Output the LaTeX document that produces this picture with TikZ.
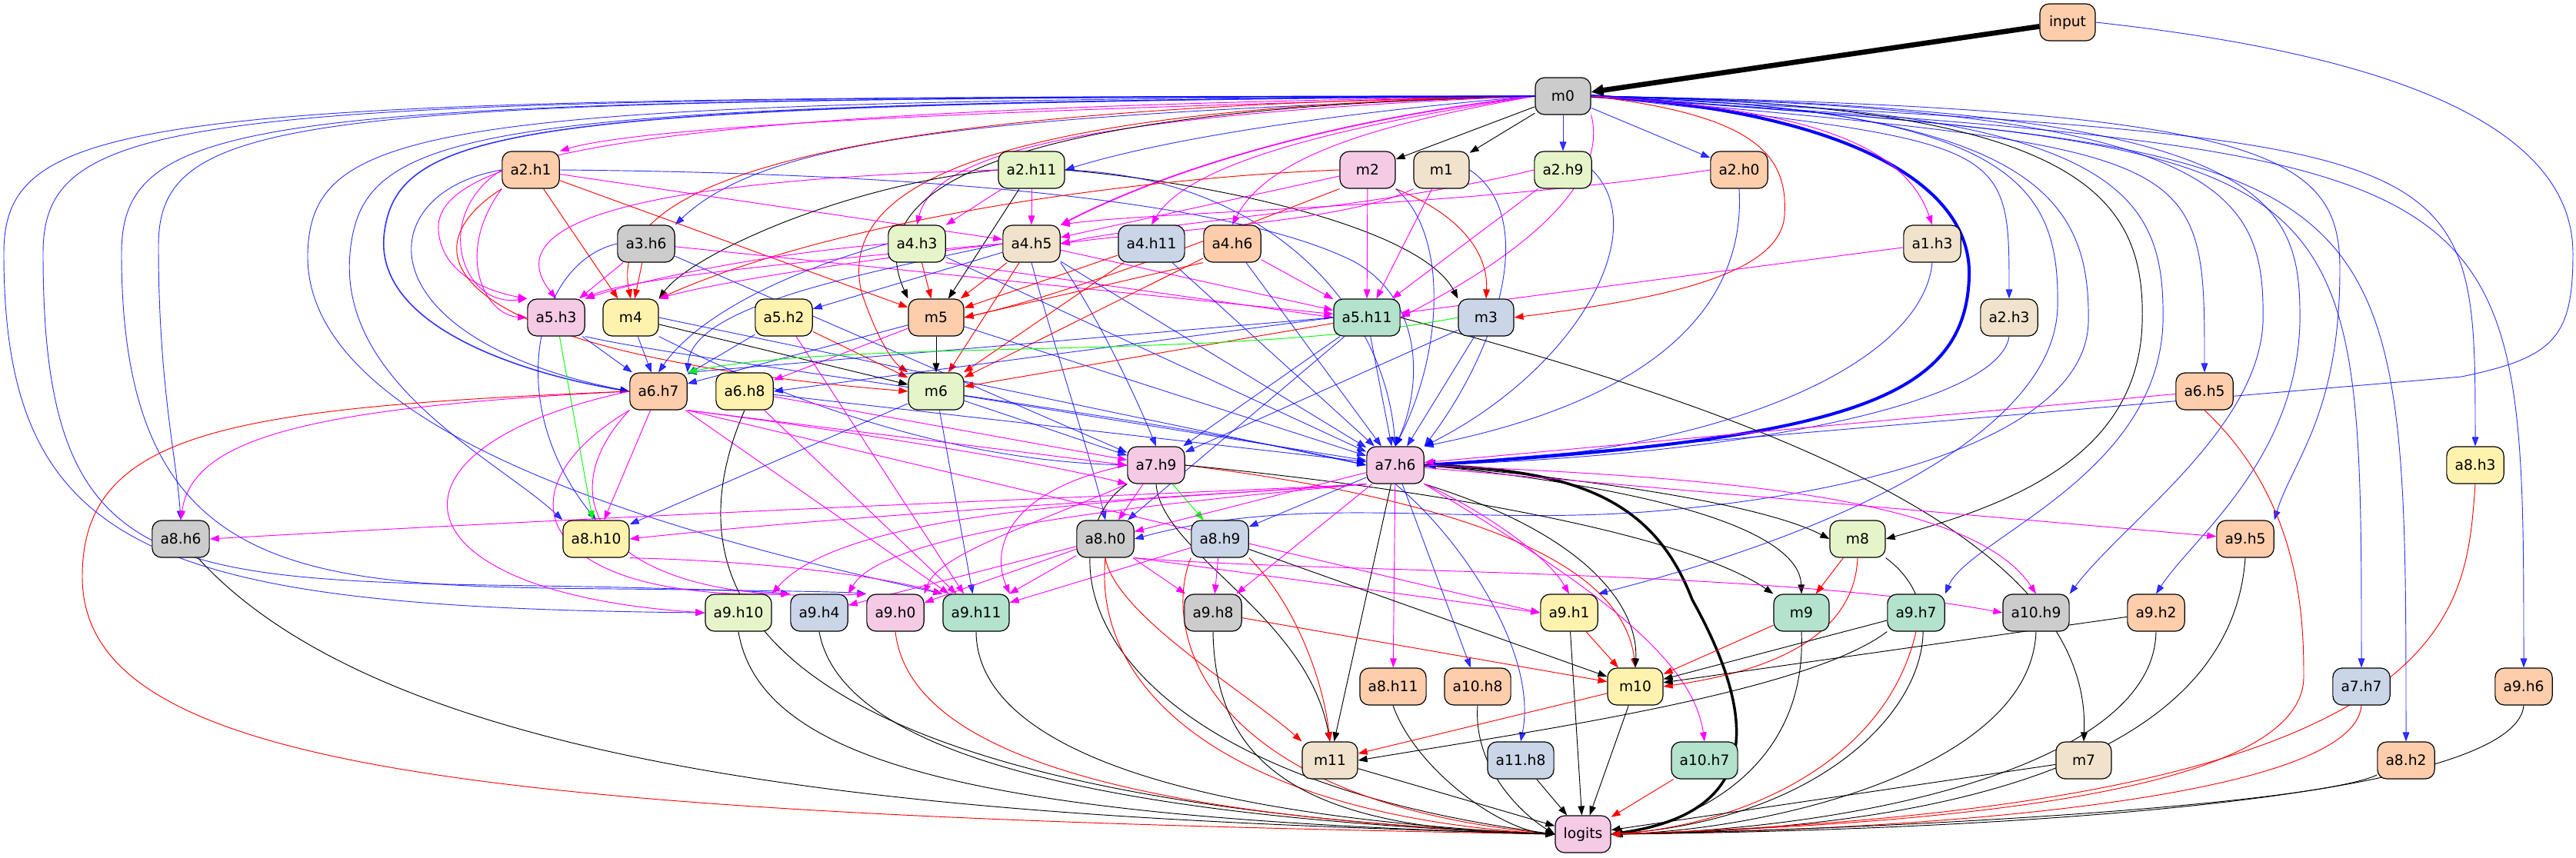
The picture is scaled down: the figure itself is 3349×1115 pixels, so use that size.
\documentclass[tikz,border=0pt]{standalone}
\usepackage{fontspec}
\setmainfont{DejaVu Sans}
\usepackage{tikz}
\usetikzlibrary{arrows.meta,calc}
\definecolor{cor}{HTML}{FDCDAC}
\definecolor{cmi}{HTML}{B3E2CD}
\definecolor{cbg}{HTML}{CBD5E8}
\definecolor{cpk}{HTML}{F4CAE4}
\definecolor{clg}{HTML}{E6F5C9}
\definecolor{cyl}{HTML}{FFF2AE}
\definecolor{cbe}{HTML}{F1E2CC}
\definecolor{cgy}{HTML}{CCCCCC}
\definecolor{wblue}{RGB}{0,0,255}
\definecolor{wmag}{RGB}{255,0,255}
\definecolor{wred}{RGB}{255,0,0}
\definecolor{wgreen}{RGB}{0,255,0}
\tikzstyle{unit}=[rectangle, draw=black, line width=0.9pt, rounded corners=9pt, minimum width=54pt, minimum height=36pt, inner xsep=8pt, text=black, font=\fontsize{14pt}{16pt}\selectfont]
\tikzset{>={Triangle[length=9pt,width=6.5pt]}}
\tikzset{
  wire/.style={->, line width=0.7pt},
  eb/.style={wire, draw=wblue, opacity=0.8},
  em/.style={wire, draw=wmag},
  er/.style={wire, draw=wred},
  ek/.style={wire, draw=black},
  eg/.style={wire, draw=wgreen},
  fanout/.style={to path={.. controls ($(\tikztotarget |- \tikztostart)+(0,#1)$) .. (\tikztotarget)}},
}
\pgfdeclarelayer{edges}
\pgfsetlayers{edges,main}
\begin{document}
\begin{tikzpicture}[x=0.75pt, y=-0.75pt]
    \useasboundingbox (0,0) rectangle (3349,1115);

        \node (input)[unit, fill=cor] at (2688,29) {input};
        \node (m0)[unit, fill=cgy] at (2032,125) {m0};
        \foreach \n/\t/\x/\c in {a2h1/a2.h1/690/cor, a2h11/a2.h11/1341/clg, m2/m2/1778/cpk, m1/m1/1874/cbe, a2h9/a2.h9/2032/clg, a2h0/a2.h0/2261/cor}{
            \node (\n)[unit, fill=\c] at (\x,221) {\t};
        };
        \foreach \n/\t/\x/\c in {a3h6/a3.h6/840/cgy, a4h3/a4.h3/1192/clg, a4h5/a4.h5/1341/cbe, a4h11/a4.h11/1497/cbg, a4h6/a4.h6/1602/cor, a1h3/a1.h3/2512/cbe}{
            \node (\n)[unit, fill=\c] at (\x,317) {\t};
        };
        \foreach \n/\t/\x/\c in {a5h3/a5.h3/723/cpk, m4/m4/820/cyl, a5h2/a5.h2/1019/cyl, m5/m5/1217/cor, a5h11/a5.h11/1777/cmi, m3/m3/1932/cbg, a2h3/a2.h3/2612/cbe}{
            \node (\n)[unit, fill=\c] at (\x,413) {\t};
        };
        \foreach \n/\t/\x/\c in {a6h7/a6.h7/856/cor, a6h8/a6.h8/968/cyl, m6/m6/1217/clg, a6h5/a6.h5/2866/cor}{
            \node (\n)[unit, fill=\c] at (\x,509) {\t};
        };
        \foreach \n/\t/\x/\c in {a7h9/a7.h9/1503/cpk, a7h6/a7.h6/1814/cpk, a8h3/a8.h3/3218/cyl}{
            \node (\n)[unit, fill=\c] at (\x,605) {\t};
        };
        \foreach \n/\t/\x/\c in {a8h6/a8.h6/235/cgy, a8h10/a8.h10/775/cyl, a8h0/a8.h0/1437/cgy, a8h9/a8.h9/1586/cbg, m8/m8/2415/clg, a9h5/a9.h5/2919/cor}{
            \node (\n)[unit, fill=\c] at (\x,701) {\t};
        };
        \foreach \n/\t/\x/\c in {a9h10/a9.h10/960/clg, a9h4/a9.h4/1065/cbg, a9h0/a9.h0/1164/cpk, a9h11/a9.h11/1269/cmi, a9h8/a9.h8/1577/cgy, a9h1/a9.h1/2040/cyl, m9/m9/2342/cmi, a9h7/a9.h7/2491/cmi, a10h9/a10.h9/2647/cgy, a9h2/a9.h2/2803/cor}{
            \node (\n)[unit, fill=\c] at (\x,797) {\t};
        };
        \foreach \n/\t/\x/\c in {a8h11/a8.h11/1811/cor, a10h8/a10.h8/1921/cor, m10/m10/2126/cyl, a7h7/a7.h7/3070/cbg, a9h6/a9.h6/3281/cor}{
            \node (\n)[unit, fill=\c] at (\x,893) {\t};
        };
        \foreach \n/\t/\x/\c in {m11/m11/1729/cbe, a11h8/a11.h8/1977/cbg, a10h7/a10.h7/2216/cmi, m7/m7/2709/cbe, a8h2/a8.h2/3128/cor}{
            \node (\n)[unit, fill=\c] at (\x,989) {\t};
        };
        \node (logits)[unit, fill=cpk] at (2058,1085) {logits};

    \begin{pgfonlayer}{edges}
        % heavy path
        \draw[ek, line width=5pt, -{Triangle[length=12pt,width=11pt]}] (input) -- (m0);
        \draw[eb, opacity=1, line width=3pt, -{Triangle[length=11pt,width=9pt]}] (m0.east) .. controls (2350,140) and (2565,220) .. (2560,360) .. controls (2555,520) and (2400,570) .. (a7h6.east);
        \draw[ek, line width=2.6pt, -{Triangle[length=11pt,width=9pt]}] (a7h6.east) .. controls (2050,610) and (2150,650) .. (2200,780) .. controls (2300,960) and (2270,1060) .. (logits.east);
        \draw[eb] (input.east) .. controls (3100,70) and (3345,160) .. (3345,330) .. controls (3345,440) and (3320,465) .. (3200,490) -- (a7h6.east);

        % m0
        \draw[ek] (m0) -- (m2);
        \draw[ek] (m0) -- (m1);
        \draw[eb] (m0) -- (a2h9);
        \draw[eb] (m0) -- (a2h0);
        \draw[em] (m0.west) .. controls (1400,140) and (850,160) .. (a2h1.north east);
        \draw[eb] (m0.west) .. controls (1700,150) and (1500,185) .. (a2h11.east);
        \draw[eb] (m0.west) .. controls (1300,150) and (1000,175) .. (a3h6.north east);
        \draw[em] (m0.west) .. controls (1400,150) and (1215,200) .. (a4h3.north);
        \draw[em, line width=1.3pt] (m0.west) .. controls (1700,160) and (1500,230) .. (a4h5.north east);
        \draw[em] (m0.west) .. controls (1700,170) and (1540,220) .. (a4h11.north);
        \draw[em] (m0.west) .. controls (1800,160) and (1650,200) .. (a4h6.north);
        \draw[em] (m0.west) .. controls (1000,140) and (560,180) .. (570,300) .. controls (575,360) and (640,380) .. (a5h3.north west);
        \draw[er] (m0.west) .. controls (1050,140) and (790,240) .. (m4.north);
        \draw[ek] (m0.west) .. controls (1350,140) and (1110,230) .. (m5.north west);
        \draw[er] (m0.west) .. controls (1250,140) and (1090,250) .. (1120,380) .. controls (1140,440) and (1160,470) .. (m6.north west);
        \draw[eb, line width=1.2pt] (m0.west) .. controls (700,135) and (520,160) .. (500,300) .. controls (480,430) and (700,490) .. (a6h7.west);
        \draw[eb] (m0.west) .. controls (620,135) and (470,160) .. (455,330) .. controls (440,500) and (650,600) .. (a8h10.north west);
        \draw[eb] (m0.west) .. controls (560,130) and (405,160) .. (400,330) .. controls (395,570) and (900,700) .. (a9h11.north west);
        \draw[eb] (m0.west) .. controls (400,128) and (206,140) .. (206,320) .. controls (206,500) and (230,600) .. (a8h6.north);
        \draw[eb] (m0.west) .. controls (350,128) and (158,140) .. (158,330) .. controls (158,760) and (400,762) .. (800,766) .. controls (1000,768) and (1100,770) .. (a9h0.north west);
        \draw[eb] (m0.west) .. controls (250,126) and (56,140) .. (56,330) .. controls (56,745) and (200,755) .. (700,762) .. controls (900,765) and (1000,770) .. (a9h4.north west);
        \draw[eb] (m0.west) .. controls (200,125) and (5,140) .. (5,330) .. controls (5,720) and (200,790) .. (a9h10.west);
        \draw[eb] (m0.east) to[fanout=60] (a2h3.north);
        \draw[eb] (m0.east) to[fanout=70] (a6h5.north);
        \draw[eb] (m0.east) to[fanout=60] (a8h3.north);
        \draw[eb] (m0.east) to[fanout=80] (a9h6.north);
        \draw[eb] (m0.east) to[fanout=75] (a8h2.north);
        \draw[eb] (m0.east) to[fanout=70] (a7h7.north);
        \draw[eb] (m0.east) .. controls (2950,140) and (3042,200) .. (3042,350) .. controls (3042,540) and (2980,600) .. (a9h5.north east);
        \draw[ek] (m0.east) .. controls (2700,135) and (2790,250) .. (2785,420) .. controls (2780,600) and (2600,660) .. (m8.east);
        \draw[eb] (m0.east) .. controls (2950,140) and (2992,250) .. (2990,420) .. controls (2985,600) and (2850,700) .. (a9h2.north);
        \draw[eb] (m0.east) .. controls (2900,140) and (2945,250) .. (2942,420) .. controls (2935,560) and (2760,680) .. (a10h9.north east);
        \draw[eb] (m0.east) .. controls (2760,140) and (2815,250) .. (2812,420) .. controls (2805,620) and (2560,700) .. (a9h7.north east);
        \draw[eb] (m0.east) .. controls (2620,140) and (2678,240) .. (2675,400) .. controls (2670,560) and (2400,690) .. (a9h1.north east);
        \draw[eb] (m0.east) .. controls (2650,140) and (2718,260) .. (2715,420) .. controls (2710,560) and (2450,640) .. (2150,665) .. controls (1900,685) and (1700,640) .. (a8h0.east);
        \draw[em] (m0.east) .. controls (2300,140) and (2470,170) .. (a1h3.north);
        \draw[em] (m0.south east) .. controls (2090,230) and (2000,320) .. (a5h11.east);
        \draw[er] (m0.east) .. controls (2280,150) and (2325,200) .. (2320,280) .. controls (2315,360) and (2150,390) .. (m3.east);

        % second row
        \draw[em] (a2h1.west) .. controls (560,280) and (600,400) .. (a5h3.north west);
        \draw[em] (a2h1.south west) .. controls (590,330) and (630,410) .. (a5h3.west);
        \draw[er] (a2h1) -- (m4);
        \draw[er] (a2h1) -- (m5);
        \draw[em] (a2h1) -- (a4h5);
        \draw[eb] (a2h1.east) .. controls (1200,225) and (1600,260) .. (1760,340) .. controls (1850,390) and (1850,500) .. (a7h6.north);
        \draw[eb] (a2h1.west) .. controls (480,250) and (470,440) .. (a6h7.west);
        \draw[er] (a2h1.south west) .. controls (520,330) and (580,460) .. (m6.west);
        \draw[em] (a2h11) -- (a4h3);
        \draw[em] (a2h11) -- (a4h5);
        \draw[ek] (a2h11) -- (m5);
        \draw[ek] (a2h11.west) .. controls (1100,240) and (900,330) .. (m4.north east);
        \draw[ek] (a2h11.east) .. controls (1600,240) and (1850,300) .. (m3.north west);
        \draw[eb] (a2h11.east) .. controls (1650,230) and (1800,400) .. (a7h6.north);
        \draw[em] (a2h11.west) .. controls (1000,230) and (620,260) .. (a5h3.north);
        \draw[em] (m2) -- (a5h11);
        \draw[er] (m2.south east) .. controls (1900,280) and (1935,330) .. (m3.north);
        \draw[em] (m2) -- (a4h5);
        \draw[er] (m2.west) .. controls (1500,230) and (1100,280) .. (m4.north east);
        \draw[er] (m2.south west) .. controls (1600,300) and (1400,380) .. (m5.east);
        \draw[eb] (m2.south east) .. controls (1880,300) and (1880,450) .. (a7h6.north);
        \draw[em] (m1) -- (a5h11);
        \draw[em] (m1.south west) .. controls (1750,290) and (1500,300) .. (a4h5.east);
        \draw[eb] (m1.east) .. controls (2000,280) and (1950,450) .. (a7h6.north east);
        \draw[em] (a2h9) -- (a5h11);
        \draw[em] (a2h9.west) .. controls (1800,270) and (1500,290) .. (a4h5.east);
        \draw[eb] (a2h9.east) .. controls (2150,300) and (2050,480) .. (a7h6.north east);
        \draw[em] (a2h0.west) .. controls (1900,270) and (1500,275) .. (a4h5.north east);
        \draw[eb] (a2h0.south) .. controls (2270,400) and (2150,520) .. (a7h6.north east);

        % third row
        \draw[er] (a3h6) -- (m4);
        \draw[em] (a3h6) -- (a5h3);
        \draw[eb] (a3h6.west) .. controls (700,340) and (650,520) .. (a8h10.north);
        \draw[eb] (a3h6) -- (a7h9);
        \draw[em] (a3h6) -- (a5h11);
        \draw[er] (a4h3) -- (m5);
        \draw[eb] (a4h3.west) .. controls (1000,360) and (900,420) .. (a6h7.north);
        \draw[eb] (a4h3) -- (a7h6);
        \draw[em] (a4h3.west) .. controls (1000,330) and (850,360) .. (a5h3.north east);
        \draw[em] (a4h3.south east) -- (a5h11.west);
        \draw[er] (a4h5) -- (m5);
        \draw[eb] (a4h5) -- (a5h2);
        \draw[eb] (a4h5.west) .. controls (1100,360) and (900,400) .. (a6h7.north east);
        \draw[er] (a4h5) -- (m6);
        \draw[eb] (a4h5.south east) .. controls (1420,400) and (1470,500) .. (a7h9.north);
        \draw[eb] (a4h5) -- (a7h6);
        \draw[eb] (a4h5.south) .. controls (1370,450) and (1420,600) .. (a8h0.north);
        \draw[em] (a4h5) -- (a5h11);
        \draw[em] (a4h5.west) .. controls (1100,340) and (920,370) .. (m4.north east);
        \draw[em] (a4h5.west) .. controls (1100,335) and (820,360) .. (a5h3.north east);
        \draw[er] (a4h11) -- (m5);
        \draw[er] (a4h11) -- (m6);
        \draw[eb] (a4h11) -- (a7h6);
        \draw[er] (a4h6.south west) -- (m5.east);
        \draw[em] (a4h6) -- (a5h11);
        \draw[eb] (a4h6) -- (a7h6);
        \draw[er] (a4h6) -- (m6);
        \draw[em] (a1h3) -- (a5h11);
        \draw[eb] (a1h3.south) .. controls (2500,470) and (2250,590) .. (a7h6.east);
        \draw[eb] (a2h3.south) .. controls (2600,520) and (2300,590) .. (a7h6.east);

        % fourth row
        \draw[eb] (a5h3) -- (a6h7);
        \draw[eg] (a5h3) -- (a8h10);
        \draw[eb] (a5h3.south east) .. controls (900,470) and (1500,540) .. (a7h6.west);
        \draw[eb] (m4) -- (a6h7);
        \draw[ek] (m4) -- (m6);
        \draw[eb] (m4.east) -- (a7h6.west);
        \draw[eb] (m4.south east) .. controls (1100,560) and (1300,600) .. (a7h9.west);
        \draw[eb] (a5h2) -- (a6h7);
        \draw[er] (a5h2) -- (m6);
        \draw[em] (a5h2) -- (a9h11);
        \draw[ek] (m5) -- (m6);
        \draw[eb] (m5) -- (a6h7);
        \draw[eb] (m5) -- (a7h6);
        \draw[em] (m5) -- (a6h8);
        \draw[eb] (a5h11.west) -- (a6h7.north east);
        \draw[eb] (a5h11.west) -- (a6h8.east);
        \draw[eb] (a5h11) -- (a7h9);
        \draw[eb] (a5h11) -- (a7h6);
        \draw[er] (a5h11) -- (m6);
        \draw[eb] (a5h11) -- (a8h0);
        \draw[ek] (a5h11.east) .. controls (2300,540) and (2720,700) .. (m7.north);
        \draw[eb] (m3) -- (a7h9);
        \draw[eb] (m3) -- (a7h6);
        \draw[eg] (m3.west) .. controls (1600,470) and (1100,440) .. (a6h7.north east);

        % fifth row
        \draw[em] (a6h5) -- (a7h6);
        \draw[er] (a6h5.south) .. controls (2990,650) and (2995,800) .. (2995,880) .. controls (2995,1020) and (2600,1070) .. (logits.east);
        \draw[em] (a6h7.south east) -- (a7h9.west);
        \draw[em] (a6h7.south east) .. controls (1100,560) and (1350,600) .. (a7h9.south west);
        \draw[em] (a6h7.west) .. controls (400,530) and (250,570) .. (a8h6.north);
        \draw[em] (a6h7) -- (a8h10);
        \draw[em] (a6h7.west) .. controls (480,580) and (500,770) .. (a9h10.west);
        \draw[em] (a6h7.south west) .. controls (640,640) and (700,780) .. (a9h4.north west);
        \draw[em] (a6h7.south west) .. controls (700,660) and (800,790) .. (a9h0.north west);
        \draw[em] (a6h7) -- (a9h11);
        \draw[em] (a6h7.south east) -- (a9h1.west);
        \draw[er] (a6h7.west) .. controls (300,530) and (107,560) .. (107,750) .. controls (107,1000) and (600,1060) .. (logits.west);
        \draw[eb] (a6h8) -- (a7h6);
        \draw[em] (a6h8) -- (a7h9);
        \draw[em] (a6h8) -- (a9h11);
        \draw[ek] (a6h8.south) .. controls (870,760) and (950,1040) .. (logits.west);
        \draw[eb] (m6) -- (a7h9);
        \draw[eb] (m6) -- (a7h6);
        \draw[eb] (m6) -- (a8h10);
        \draw[eb] (m6) -- (a9h11);

        % sixth row
        \draw[em] (a7h9) -- (a8h0);
        \draw[eg] (a7h9) -- (a8h9);
        \draw[em] (a7h9.west) .. controls (1300,640) and (1290,720) .. (a9h11.north east);
        \draw[em] (a7h9.south west) .. controls (1350,680) and (1220,720) .. (a9h0.north east);
        \draw[er] (a7h9.east) .. controls (1900,650) and (2110,730) .. (m10.north);
        \draw[ek] (a7h9.east) .. controls (1900,640) and (2200,700) .. (m9.north west);
        \draw[ek] (a7h9.south) .. controls (1510,720) and (1700,800) .. (m11.north);
        \draw[ek] (a7h9.south west) .. controls (1360,700) and (1380,1000) .. (logits.west);
        \draw[eb] (a7h6) -- (a8h9);
        \draw[em] (a7h6) -- (a8h0);
        \draw[em] (a7h6.south west) .. controls (1550,645) and (1100,670) .. (a8h10.east);
        \draw[em] (a7h6.south west) .. controls (1600,640) and (1000,660) .. (a8h6.east);
        \draw[ek] (a7h6.east) .. controls (2100,625) and (2300,660) .. (m8.west);
        \draw[ek] (a7h6.east) .. controls (2200,640) and (2340,700) .. (m9.north);
        \draw[ek] (a7h6.south east) .. controls (2080,700) and (2130,800) .. (m10.north);
        \draw[ek] (a7h6) -- (m11);
        \draw[em] (a7h6) -- (a8h11);
        \draw[eb] (a7h6) -- (a10h8);
        \draw[eb] (a7h6.south) .. controls (1900,700) and (2000,850) .. (a11h8.north);
        \draw[em] (a7h6.south east) .. controls (2050,750) and (2200,850) .. (a10h7.north);
        \draw[em] (a7h6.south east) .. controls (1920,660) and (2010,720) .. (a9h1.north);
        \draw[em] (a7h6) -- (a9h5);
        \draw[em] (a7h6.east) .. controls (2200,620) and (2560,640) .. (a10h9.north);
        \draw[em] (a7h6) -- (a9h8);
        \draw[em] (a7h6.south west) .. controls (1500,650) and (1100,660) .. (a9h10.north east);
        \draw[em] (a7h6.south west) .. controls (1500,655) and (1150,690) .. (a9h4.north east);

        % seventh row
        \draw[em] (a8h10.south east) .. controls (1000,730) and (1150,750) .. (a9h11.north west);
        \draw[em] (a8h0) -- (a9h4);
        \draw[em] (a8h0) -- (a9h0);
        \draw[em] (a8h0) -- (a9h11);
        \draw[em] (a8h0) -- (a9h8);
        \draw[em] (a8h0.south east) -- (a9h1.west);
        \draw[em] (a8h0.south east) .. controls (1700,745) and (2300,740) .. (a10h9.west);
        \draw[er] (a8h0.south) .. controls (1450,800) and (1620,900) .. (m11.north west);
        \draw[er] (a8h0.south) .. controls (1420,900) and (1600,1060) .. (logits.west);
        \draw[em] (a8h9) -- (a9h11);
        \draw[em] (a8h9) -- (a9h8);
        \draw[er] (a8h9.south east) .. controls (1680,780) and (1720,880) .. (m11.north);
        \draw[ek] (a8h9) -- (m10);
        \draw[er] (a8h9.south west) .. controls (1510,820) and (1560,1040) .. (logits.west);
        \draw[ek] (a8h6) .. controls +(300,330) and +(-700,-20) .. (logits.west);
        \draw[er] (m8) -- (m9);
        \draw[er] (m8.south) .. controls (2410,850) and (2250,880) .. (m10.east);
        \draw[ek] (m8.south east) .. controls (2580,820) and (2450,1060) .. (logits.east);
        \draw[ek] (a9h5.south) .. controls (2900,1000) and (2500,1080) .. (logits.east);

        % eighth row
        \draw[ek] (a9h10.south) .. controls (990,1000) and (1300,1065) .. (logits.west);
        \draw[ek] (a9h4.south) .. controls (1090,960) and (1350,1060) .. (logits.west);
        \draw[er] (a9h0.south) .. controls (1180,960) and (1400,1060) .. (logits.west);
        \draw[ek] (a9h11.south) .. controls (1270,960) and (1500,1060) .. (logits.west);
        \draw[er] (a9h8) -- (m10);
        \draw[ek] (a9h8.south) .. controls (1580,1000) and (1700,1080) .. (logits.west);
        \draw[er] (a9h1) -- (m10);
        \draw[ek] (a9h1) -- (logits);
        \draw[er] (m9) -- (m10);
        \draw[ek] (m9.south) .. controls (2350,1000) and (2200,1070) .. (logits.east);
        \draw[ek] (a9h7) -- (m10);
        \draw[ek] (a9h7.south west) .. controls (2350,900) and (2000,950) .. (m11.east);
        \draw[er] (a9h7.south) .. controls (2450,1000) and (2250,1075) .. (logits.east);
        \draw[ek] (a10h9.south) .. controls (2640,1000) and (2300,1080) .. (logits.east);
        \draw[ek] (a9h2) -- (m10);
        \draw[ek] (a9h2.south) .. controls (2800,1000) and (2400,1080) .. (logits.east);

        % last rows
        \draw[ek] (a8h11.south) .. controls (1840,1000) and (1950,1080) .. (logits.west);
        \draw[ek] (a10h8.south) .. controls (1915,1000) and (1980,1060) .. (logits.west);
        \draw[er] (m10) -- (m11);
        \draw[ek] (m10) -- (logits);
        \draw[er] (a7h7.south) .. controls (3060,1040) and (2500,1080) .. (logits.east);
        \draw[ek] (a9h6.south) .. controls (3270,1040) and (2600,1080) .. (logits.east);
        \draw[ek] (m11) -- (logits);
        \draw[ek] (a11h8) -- (logits);
        \draw[er] (a10h7) -- (logits);
        \draw[ek] (m7) -- (logits);
        \draw[ek] (a8h2) .. controls +(-100,50) and +(500,-10) .. (logits.east);
        \draw[er] (a8h3.south) .. controls (3205,800) and (3205,1050) .. (logits.east);
    \end{pgfonlayer}

    \end{tikzpicture}
\end{document}
